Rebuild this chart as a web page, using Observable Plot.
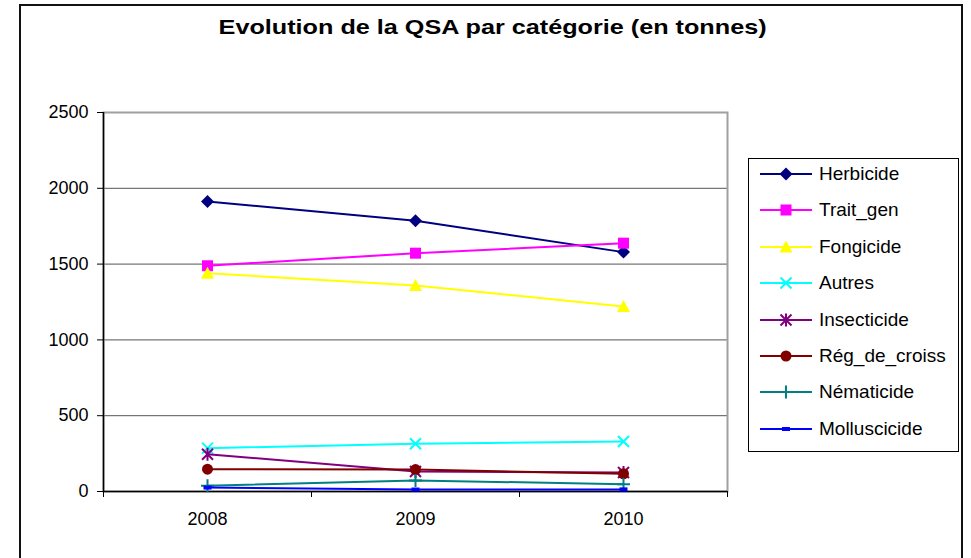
<!DOCTYPE html>
<html>
<head>
<meta charset="utf-8">
<script src="https://cdn.jsdelivr.net/npm/d3@7"></script>
<script src="https://cdn.jsdelivr.net/npm/@observablehq/plot@0.6"></script>
<style>
  html, body { margin: 0; padding: 0; background: #fff; }
  body { font-family: "Liberation Sans", Arial, sans-serif; }
  #wrap { position: relative; width: 971px; height: 558px; overflow: hidden; }
  #frame { position: absolute; left: 19px; top: 4px; width: 944px; height: 600px; border: 2px solid #111; box-sizing: border-box; }
  #title { position: absolute; left: 20px; width: 945px; top: 15px; text-align: center; font-weight: bold; font-size: 21px; color: #000; transform: scaleX(1.2); transform-origin: 472px 0; }
  #chart { position: absolute; left: 0; top: 60px; }
  #legend { position: absolute; left: 748px; top: 158px; width: 211px; height: 294px; border: 1px solid #000; box-sizing: border-box; background: #fff; }
  .row { position: absolute; left: 0; height: 24px; display: flex; align-items: center; }
  .row span { font-size: 19px; color: #000; margin-left: 6px; white-space: nowrap; }
</style>
</head>
<body>
<div id="wrap">
  <div id="frame"></div>
  <div id="title">Evolution de la QSA par catégorie (en tonnes)</div>
  <div id="chart"></div>
  <div id="legend"></div>
</div>
<script>
// ---- data ----
const years = [2008, 2009, 2010];
const seriesNames = ["Herbicide", "Trait_gen", "Fongicide", "Autres", "Insecticide", "Rég_de_croiss", "Nématicide", "Molluscicide"];
const herbicide    = [1913, 1786, 1579];
const traitGen     = [1489, 1572, 1638];
const fongicide    = [1440, 1359, 1220];
const autres       = [286, 315, 330];
const insecticide  = [246, 132, 125];
const regCroiss    = [147, 145, 117];
const nematicide   = [38, 73, 48];
const molluscicide = [26, 13, 14];
const yTicks = [0, 500, 1000, 1500, 2000, 2500];
const seriesColors = ["#000080", "#FF00FF", "#FFFF00", "#00FFFF", "#800080", "#800000", "#008080", "#0000FF"];

const seriesValues = [herbicide, traitGen, fongicide, autres, insecticide, regCroiss, nematicide, molluscicide];

// ---- custom Excel-like symbols ----
const symDiamond = {draw(c){ const r=6.5; c.moveTo(0,-r); c.lineTo(r,0); c.lineTo(0,r); c.lineTo(-r,0); c.closePath(); }};
const symSquare  = {draw(c){ const h=5.5; c.rect(-h,-h,2*h,2*h); }};
const symTriangle= {draw(c){ const w=6.5; c.moveTo(0,-6.5); c.lineTo(w,5.5); c.lineTo(-w,5.5); c.closePath(); }};
const symTimes   = {draw(c){ const h=5.5; c.moveTo(-h,-h); c.lineTo(h,h); c.moveTo(h,-h); c.lineTo(-h,h); }};
const symStar    = {draw(c){ const h=5.5; c.moveTo(-h,-h); c.lineTo(h,h); c.moveTo(h,-h); c.lineTo(-h,h); c.moveTo(0,-6.5); c.lineTo(0,6.5); }};
const symCircle  = {draw(c){ const r=5.5; c.moveTo(r,0); c.arc(0,0,r,0,2*Math.PI); }};
const symPlus    = {draw(c){ const h=6.5; c.moveTo(-h,0); c.lineTo(h,0); c.moveTo(0,-h); c.lineTo(0,h); }};
const symDash    = {draw(c){ c.rect(-4,-2,8,4); }};
const symbols = [symDiamond, symSquare, symTriangle, symTimes, symStar, symCircle, symPlus, symDash];
const filled  = [true, true, true, false, false, true, false, true];

// tidy table
const rows = [];
seriesNames.forEach((name, i) => years.forEach((yr, j) => rows.push({series: name, year: yr, value: seriesValues[i][j]})));

const bounds = [years[0] - 0.5, ...years.map(y => y + 0.5)];

const marks = [
  Plot.ruleY(yTicks.slice(1, -1), {stroke: "#555", strokeWidth: 1}),
  Plot.frame({stroke: "#a0a0a0", strokeWidth: 2}),
  Plot.ruleY([0], {stroke: "#000", strokeWidth: 1.5}),
  Plot.ruleX([bounds[0]], {stroke: "#000", strokeWidth: 1.5}),
  Plot.axisY({ticks: yTicks, tickSize: 6, tickPadding: 9, tickFormat: d => String(d), fontSize: 18, label: null, stroke: "#000"}),
  Plot.axisX({ticks: bounds, tickSize: 6, tickFormat: () => "", label: null}),
  Plot.axisX({ticks: years, tickSize: 0, tickPadding: 21, tickFormat: d => String(d), fontSize: 18, label: null})
];
seriesNames.forEach((name, i) => {
  const data = rows.filter(r => r.series === name);
  marks.push(Plot.line(data, {x: "year", y: "value", stroke: seriesColors[i], strokeWidth: 2}));
  marks.push(Plot.dot(data, {
    x: "year", y: "value", symbol: () => symbols[i], r: 6,
    fill: filled[i] ? seriesColors[i] : "none",
    stroke: seriesColors[i], strokeWidth: filled[i] ? 0 : 2
  }));
});

const chart = Plot.plot({
  width: 971,
  height: 498,
  marginLeft: 103,
  marginRight: 244,
  marginTop: 52,
  marginBottom: 67,
  style: {fontFamily: "Liberation Sans, Arial, sans-serif", color: "#000", background: "transparent", overflow: "visible"},
  x: {type: "linear", domain: [bounds[0], bounds[bounds.length - 1]]},
  y: {domain: [0, 2500]},
  symbol: {type: "identity"},
  marks
});
document.getElementById("chart").appendChild(chart);

// ---- legend ----
const legend = d3.select("#legend");
seriesNames.forEach((name, i) => {
  const row = legend.append("div").attr("class", "row").style("top", (173 - 158 - 12 + i * 36.4) + "px").style("left", "10px");
  const svg = row.append("svg").attr("width", 54).attr("height", 24);
  svg.append("line").attr("x1", 1).attr("x2", 53).attr("y1", 12).attr("y2", 12).attr("stroke", seriesColors[i]).attr("stroke-width", 2);
  svg.append("path").attr("transform", "translate(27,12)")
    .attr("d", d3.symbol(symbols[i])())
    .attr("fill", filled[i] ? seriesColors[i] : "none")
    .attr("stroke", filled[i] ? "none" : seriesColors[i])
    .attr("stroke-width", 2);
  row.append("span").text(name);
});
</script>
</body>
</html>
